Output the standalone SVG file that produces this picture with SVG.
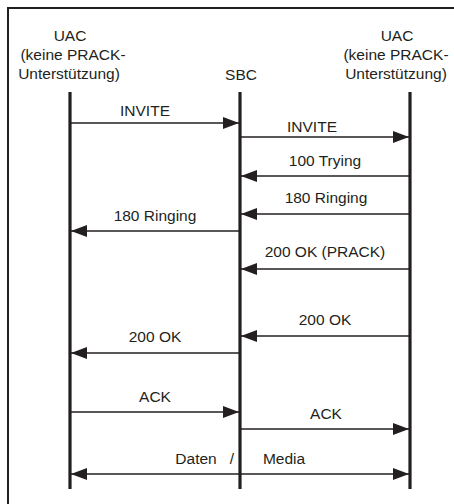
<svg xmlns="http://www.w3.org/2000/svg" width="454" height="504" viewBox="0 0 454 504">
<defs>
<marker id="ah" viewBox="0 0 16 12" refX="16" refY="6" markerWidth="16" markerHeight="12" markerUnits="userSpaceOnUse" orient="auto-start-reverse">
<path d="M0,0 L16,6 L0,12 Z" fill="#231f20"/>
</marker>
<style>
text{font-family:"Liberation Sans",Arial,Helvetica,sans-serif;font-size:15.5px;fill:#231f20;text-anchor:middle}
.life{stroke:#231f20;stroke-width:3.2;fill:none}
.msg{stroke:#231f20;stroke-width:1.6;fill:none;marker-end:url(#ah)}
.both{marker-start:url(#ah)}
.frame{stroke:#231f20;stroke-width:2;fill:none}
</style>
</defs>
<rect width="454" height="504" fill="#fff"/>
<path class="frame" d="M8,504 V8 H454"/>
<g id="uac-left">
<text x="70" y="41">UAC</text>
<text x="73" y="60">(keine PRACK-</text>
<text x="69" y="79">Unterstützung)</text>
<line class="life" x1="70" y1="92" x2="70" y2="489"/>
</g>
<g id="sbc">
<text x="241" y="80">SBC</text>
<line class="life" x1="240" y1="92" x2="240" y2="489"/>
</g>
<g id="uac-right">
<text x="397" y="41">UAC</text>
<text x="396" y="60">(keine PRACK-</text>
<text x="396" y="79">Unterstützung)</text>
<line class="life" x1="410" y1="92" x2="410" y2="489"/>
</g>
<g id="connectors">
<line class="msg" x1="71" y1="123" x2="239" y2="123"/>
<text x="145" y="116">INVITE</text>
<line class="msg" x1="241" y1="137" x2="409" y2="137"/>
<text x="312" y="132">INVITE</text>
<line class="msg" x1="409" y1="176" x2="241" y2="176"/>
<text x="325" y="166">100 Trying</text>
<line class="msg" x1="409" y1="214" x2="241" y2="214"/>
<text x="326" y="203">180 Ringing</text>
<line class="msg" x1="239" y1="231" x2="71" y2="231"/>
<text x="155" y="221">180 Ringing</text>
<line class="msg" x1="409" y1="269" x2="241" y2="269"/>
<text x="325" y="257">200 OK (PRACK)</text>
<line class="msg" x1="409" y1="336" x2="241" y2="336"/>
<text x="325" y="325">200 OK</text>
<line class="msg" x1="239" y1="353" x2="71" y2="353"/>
<text x="155" y="342">200 OK</text>
<line class="msg" x1="71" y1="412" x2="239" y2="412"/>
<text x="155" y="402">ACK</text>
<line class="msg" x1="241" y1="429" x2="409" y2="429"/>
<text x="326" y="419">ACK</text>
<line class="msg both" x1="71" y1="474" x2="409" y2="474"/>
<text x="196" y="464">Daten</text>
<text x="232" y="464">/</text>
<text x="284" y="464">Media</text>
</g>
</svg>
